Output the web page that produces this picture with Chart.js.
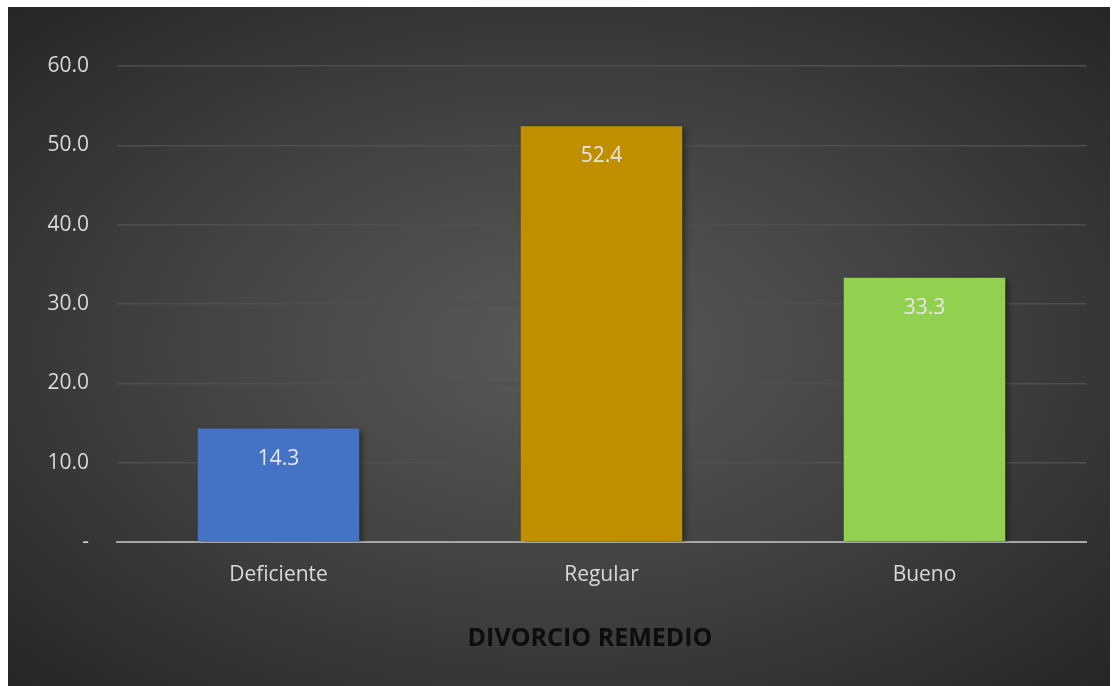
<!DOCTYPE html>
<html>
<head>
<meta charset="utf-8">
<script src="https://cdn.jsdelivr.net/npm/chart.js@4.4.1/dist/chart.umd.min.js"></script>
<style>
  html, body { margin: 0; padding: 0; background: #ffffff; }
  #panel {
    position: absolute; left: 8px; top: 7px; width: 1102px; height: 679px;
    background: radial-gradient(ellipse at 50% 50%, #595959 0%, #444444 45%, #262626 100%);
  }
</style>
</head>
<body>
<div id="panel"><canvas id="divorcioChart"></canvas></div>
<script>
const categories = ['Deficiente', 'Regular', 'Bueno'];
const percentages = [14.3, 52.4, 33.3];
const barColors = ['#4472C4', '#BF8F00', '#92D050'];
const yTicks = [0, 10, 20, 30, 40, 50, 60];
const chartTitle = 'DIVORCIO REMEDIO';

// etiquetas de valor dentro de la barra, arriba
const valueLabels = {
  id: 'valueLabels',
  afterDatasetsDraw(chart) {
    const ctx = chart.ctx;
    const meta = chart.getDatasetMeta(0);
    ctx.save();
    ctx.fillStyle = '#e6e6e6';
    ctx.font = '21px "Open Sans"';
    ctx.textAlign = 'center';
    ctx.textBaseline = 'middle';
    meta.data.forEach((bar, i) => {
      ctx.fillText(percentages[i].toFixed(1), bar.x, bar.y + 30);
    });
    ctx.restore();
  }
};

// titulo del eje, un poco a la izquierda del centro como en el original
const axisTitle = {
  id: 'axisTitle',
  afterDraw(chart) {
    const ctx = chart.ctx;
    ctx.save();
    ctx.fillStyle = '#0d0d0d';
    ctx.font = 'bold 25px "Open Sans"';
    ctx.textAlign = 'center';
    ctx.textBaseline = 'middle';
    ctx.fillText(chartTitle, 582, 632);
    ctx.restore();
  }
};

// sombra suave de las barras
const barShadow = {
  id: 'barShadow',
  beforeDatasetsDraw(chart) {
    chart.ctx.save();
    chart.ctx.shadowColor = 'rgba(0,0,0,0.45)';
    chart.ctx.shadowBlur = 6;
    chart.ctx.shadowOffsetX = 3;
    chart.ctx.shadowOffsetY = 2;
  },
  afterDatasetsDraw(chart) {
    chart.ctx.restore();
  }
};

const ctx = document.getElementById('divorcioChart').getContext('2d');
new Chart(ctx, {
  type: 'bar',
  data: {
    labels: categories,
    datasets: [{
      data: percentages,
      backgroundColor: barColors,
      borderWidth: 0,
      categoryPercentage: 0.5,
      barPercentage: 1.0
    }]
  },
  options: {
    responsive: true,
    maintainAspectRatio: false,
    animation: false,
    layout: { padding: { top: 59, right: 24, bottom: 0, left: 0 } },
    plugins: {
      legend: { display: false },
      tooltip: { enabled: false }
    },
    scales: {
      x: {
        afterFit: s => { s.height = 144; },
        grid: { display: false, drawTicks: false },
        border: { color: '#a6a6a6', width: 2 },
        ticks: { color: '#d9d9d9', padding: 20, font: { family: 'Open Sans', size: 21 } }
      },
      y: {
        min: 0,
        max: 60,
        afterFit: s => { s.width = 109; },
        afterBuildTicks: s => { s.ticks = yTicks.map(v => ({ value: v })); },
        grid: { color: '#4f4f4f', lineWidth: 1.5, drawTicks: false },
        border: { display: false },
        ticks: {
          color: '#d9d9d9',
          padding: 28,
          font: { family: 'Open Sans', size: 21 },
          callback: v => v === 0 ? '-' : v.toFixed(1)
        }
      }
    }
  },
  plugins: [barShadow, valueLabels, axisTitle]
});
</script>
</body>
</html>
